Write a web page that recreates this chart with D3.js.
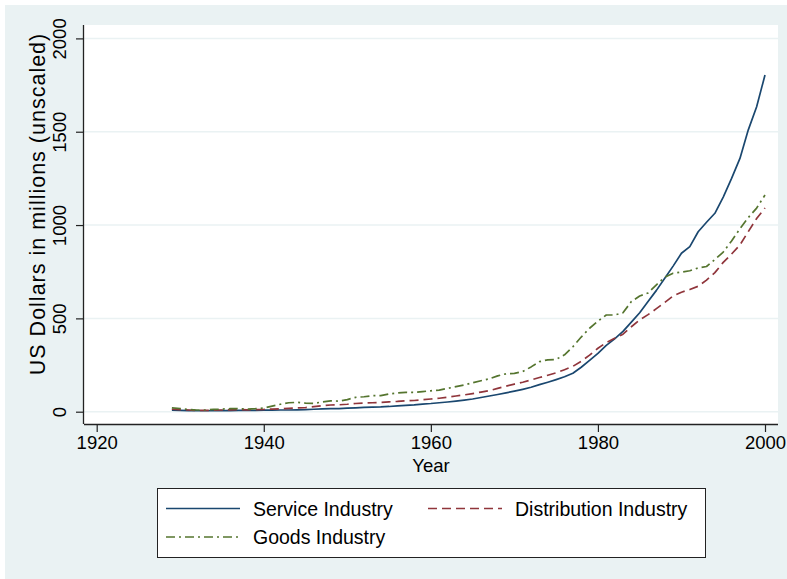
<!DOCTYPE html>
<html>
<head>
<meta charset="utf-8">
<script src="https://cdnjs.cloudflare.com/ajax/libs/d3/7.8.5/d3.min.js"></script>
<style>
  html, body { margin: 0; padding: 0; background: #ffffff; }
  svg { display: block; }
  text { font-family: "Liberation Sans", Arial, Helvetica, sans-serif; fill: #000; }
</style>
</head>
<body>
<svg id="chart" width="787" height="579"></svg>
<script>
const years = d3.range(1929, 2001);
const service = [
  8, 7, 6, 5, 5, 5, 6, 6, 7, 7,            // 1929-1938
  7, 8, 8, 9, 9, 10, 11, 13, 15, 16,       // 1939-1948
  17, 19, 21, 23, 25, 26, 28, 31, 34, 37,  // 1949-1958
  41, 44, 48, 52, 57, 62, 68, 76, 84, 92,  // 1959-1968
  101, 110, 120, 131, 145, 158, 172, 187, 206, 238, // 1969-1978
  275, 312, 355, 390, 430, 480, 530, 590, 650, 715, // 1979-1988
  780, 849, 884, 964, 1015, 1063, 1150, 1250, 1357, 1510, // 1989-1998
  1634, 1804                                // 1999-2000
];
const distribution = [
  13, 11, 9, 7, 7, 8, 9, 10, 11, 10,
  11, 12, 14, 16, 18, 20, 22, 27, 32, 36,
  37, 40, 44, 46, 48, 50, 53, 55, 58, 60,
  64, 68, 72, 78, 84, 90, 97, 105, 113, 125,
  137, 148, 158, 170, 183, 195, 208, 225, 243, 270,
  303, 340, 370, 393, 415, 455, 492, 520, 552, 585,
  620, 640, 655, 672, 705, 745, 800, 845, 893, 965,
  1035, 1091
];
const goods = [
  21, 17, 12, 9, 9, 12, 14, 16, 17, 14,
  16, 20, 30, 40, 48, 50, 46, 45, 52, 58,
  57, 65, 77, 80, 86, 86, 95, 100, 104, 103,
  108, 112, 116, 125, 134, 143, 155, 166, 176, 192,
  203, 205, 215, 240, 268, 278, 280, 305, 348, 400,
  447, 485, 518, 518, 530, 590, 620, 636, 680, 720,
  742, 748, 755, 770, 778, 815, 855, 915, 980, 1040,
  1091, 1161
];
const xTicks = [1920, 1940, 1960, 1980, 2000];
const yTicks = [0, 500, 1000, 1500, 2000];
const seriesNames = ["Service Industry", "Distribution Industry", "Goods Industry"];

const colors = ["#1a476f", "#90353b", "#55752f"];
const dashes = [null, "9,5", "9,4,2,4"];
const seriesData = [service, distribution, goods];

const svg = d3.select("#chart");
const W = 787, H = 579;
const plot = { left: 84, right: 778, top: 25, bottom: 424 };

// background
svg.append("rect").attr("x", 0).attr("y", 0).attr("width", W).attr("height", H).attr("fill", "#ffffff");
svg.append("rect").attr("x", 5).attr("y", 5).attr("width", W - 5).attr("height", H - 5).attr("fill", "#eaf2f3");
svg.append("rect").attr("x", plot.left).attr("y", plot.top)
  .attr("width", plot.right - plot.left).attr("height", plot.bottom - plot.top).attr("fill", "#ffffff");

const x = d3.scaleLinear().domain([1920, 2000]).range([96.7, 765]);
const y = d3.scaleLinear().domain([0, 2000]).range([411.7, 38.4]);

// grid lines
svg.append("g").selectAll("line").data(yTicks).join("line")
  .attr("x1", plot.left).attr("x2", plot.right)
  .attr("y1", d => y(d)).attr("y2", d => y(d))
  .attr("stroke", "#eaf2f3").attr("stroke-width", 1.5);

// lines
const line = d3.line().x((d, i) => x(years[i])).y(d => y(d));
seriesData.forEach((s, k) => {
  const p = svg.append("path").datum(s)
    .attr("d", line)
    .attr("fill", "none")
    .attr("stroke", colors[k])
    .attr("stroke-width", 1.7)
    .attr("stroke-linejoin", "round");
  if (dashes[k]) p.attr("stroke-dasharray", dashes[k]);
});

// axes
const xAxis = d3.axisBottom(x).tickValues(xTicks).tickFormat(d3.format("d")).tickSize(8).tickPadding(4);
const gx = svg.append("g").attr("transform", `translate(0,${plot.bottom})`).call(xAxis);
gx.select(".domain").attr("d", `M${plot.left},0.5H${plot.right}`).attr("stroke", "#222").attr("stroke-width", 1.3);
gx.selectAll(".tick line").attr("stroke", "#222").attr("stroke-width", 1.2);
gx.selectAll(".tick text").attr("font-size", 18.5).attr("font-family", "Liberation Sans, Arial, sans-serif").attr("fill", "#000");

const yAxis = d3.axisLeft(y).tickValues(yTicks).tickFormat(d3.format("d")).tickSize(8).tickPadding(0);
const gy = svg.append("g").attr("transform", `translate(${plot.left},0)`).call(yAxis);
gy.select(".domain").attr("d", `M-0.5,${plot.top}V${plot.bottom}`).attr("stroke", "#222").attr("stroke-width", 1.3);
gy.selectAll(".tick line").attr("stroke", "#222").attr("stroke-width", 1.2);
gy.selectAll(".tick text")
  .attr("font-size", 18.5).attr("font-family", "Liberation Sans, Arial, sans-serif").attr("fill", "#000")
  .attr("x", null).attr("dy", null)
  .attr("text-anchor", "middle")
  .attr("transform", "translate(-18,0) rotate(-90)");

// axis titles
svg.append("text").attr("x", (plot.left + plot.right) / 2).attr("y", 472)
  .attr("text-anchor", "middle").attr("font-size", 18.5).text("Year");
svg.append("text").attr("transform", `translate(45,204) rotate(-90)`)
  .attr("text-anchor", "middle").attr("font-size", 21.5).attr("letter-spacing", 1.0)
  .text("US Dollars in millions (unscaled)");

// legend
const lg = svg.append("g");
lg.append("rect").attr("x", 157.5).attr("y", 488.5).attr("width", 548).attr("height", 69)
  .attr("fill", "#ffffff").attr("stroke", "#222").attr("stroke-width", 1);
const legendPos = [
  { x: 166, y: 508.5 },
  { x: 428, y: 508.5 },
  { x: 166, y: 537 }
];
seriesNames.forEach((name, k) => {
  const p = legendPos[k];
  const l = lg.append("line").attr("x1", p.x).attr("x2", p.x + 74)
    .attr("y1", p.y).attr("y2", p.y)
    .attr("stroke", colors[k]).attr("stroke-width", 1.7);
  if (dashes[k]) l.attr("stroke-dasharray", dashes[k]);
  lg.append("text").attr("x", p.x + 87).attr("y", p.y + 7)
    .attr("font-size", 19.5).text(name);
});
</script>
</body>
</html>
